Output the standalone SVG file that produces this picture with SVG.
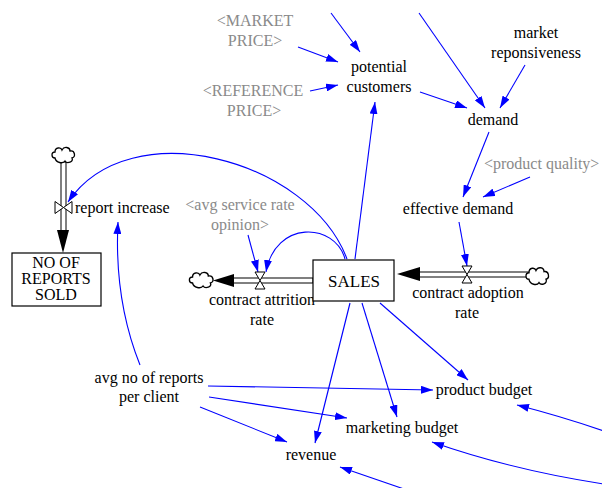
<svg xmlns="http://www.w3.org/2000/svg" width="602" height="488" viewBox="0 0 602 488">
<defs>
<style>
text{font-family:Liberation Serif,Times New Roman,Times,serif;font-size:16px;fill:#000;text-anchor:middle}
.sh{fill:#8a8a8a}
.ln{fill:none;stroke:#0000ff;stroke-width:1.1;marker-end:url(#a)}
.pipe{fill:#fff;stroke:#000;stroke-width:1}
.valve{fill:#fff;stroke:#000;stroke-width:1}
.cloud{fill:#fff;stroke:#000;stroke-width:1.3}
.box{fill:#fff;stroke:#000;stroke-width:1.2}
</style>
<marker id="a" viewBox="0 0 12 8" refX="12" refY="4" markerWidth="12" markerHeight="8" markerUnits="userSpaceOnUse" orient="auto">
<path d="M0,0 L12,4 L0,8 z" fill="#0000ff"/>
</marker>
<path id="cl" d="M-9,3 C-13,3 -13,-3 -9,-3 C-9,-8 -3,-8 -2,-5 C0,-9 6,-8 6,-4 C11,-5 12,2 8,3 C10,7 3,9 1,6 C-1,9 -8,8 -9,3 Z"/>
</defs>

<g id="connectors">
<path class="ln" d="M331,13 L360,52"/>
<path class="ln" d="M298,47 L338,62"/>
<path class="ln" d="M310,91 L338,85"/>
<path class="ln" d="M419,13 L485,108"/>
<path class="ln" d="M525,65 L500,108"/>
<path class="ln" d="M420,92 L467,108"/>
<path class="ln" d="M489,132 L463,197"/>
<path class="ln" d="M530,177 L483,197"/>
<path class="ln" d="M459,222 L467,266"/>
<path class="ln" d="M355,259 L375,102"/>
<path class="ln" d="M347,259 C310,160 130,110 68,202"/>
<path class="ln" d="M345,259 C335,222 275,220 266,272"/>
<path class="ln" d="M248,235 L258,272"/>
<path class="ln" d="M380,303 L468,380"/>
<path class="ln" d="M362,303 L397,417"/>
<path class="ln" d="M350,303 L315,443"/>
<path class="ln" d="M140,365 Q114,300 118,222"/>
<path class="ln" d="M208,386 L433,390"/>
<path class="ln" d="M209,397 L347,418"/>
<path class="ln" d="M200,407 L287,442"/>
<path class="ln" d="M604,431 Q560,416 517,405"/>
<path class="ln" d="M604,484 Q512,470 432,442"/>
<path class="ln" d="M404,489 L340,467"/>
</g>

<g id="flow-report-increase">
<rect class="pipe" x="61" y="162" width="5" height="70"/>
<polygon points="57,230 69,230 63,253" fill="#000"/>
<use href="#cl" class="cloud" transform="translate(64,155)"/>
<polygon class="valve" points="55,201.5 55,213.5 63.5,207.5"/>
<polygon class="valve" points="72,201.5 72,213.5 63.5,207.5"/>
<text x="75" y="213" style="text-anchor:start">report increase</text>
</g>

<g id="flow-contract-attrition">
<rect class="pipe" x="228" y="278" width="85" height="5"/>
<polygon points="213,280.5 234,274 234,287" fill="#000"/>
<use href="#cl" class="cloud" transform="translate(202,280) scale(1.05,1)"/>
<polygon class="valve" points="255,272 265,272 260,280.5"/>
<polygon class="valve" points="255,289 265,289 260,280.5"/>
<text x="262" y="305">contract attrition</text>
<text x="262" y="325">rate</text>
</g>

<g id="flow-contract-adoption">
<rect class="pipe" x="415" y="272" width="114" height="5"/>
<polygon points="397,274 420,267 420,281" fill="#000"/>
<use href="#cl" class="cloud" transform="translate(538,276) scale(1,1.1)"/>
<polygon class="valve" points="462,266 472,266 467,274.5"/>
<polygon class="valve" points="462,283 472,283 467,274.5"/>
<text x="468" y="298">contract adoption</text>
<text x="467" y="318">rate</text>
</g>

<g id="stock-sales">
<rect class="box" x="313" y="260" width="81" height="41"/>
<text x="354" y="287" style="font-size:17px">SALES</text>
</g>

<g id="stock-reports-sold">
<rect class="box" x="12" y="253" width="89" height="53"/>
<text x="56" y="268">NO OF</text>
<text x="56" y="284">REPORTS</text>
<text x="56" y="300">SOLD</text>
</g>

<g id="market-price"><text class="sh" x="255" y="26">&lt;MARKET</text><text class="sh" x="255" y="46">PRICE&gt;</text></g>
<g id="reference-price"><text class="sh" x="253" y="96">&lt;REFERENCE</text><text class="sh" x="254" y="116">PRICE&gt;</text></g>
<g id="potential-customers"><text x="379" y="72">potential</text><text x="379" y="92">customers</text></g>
<g id="market-responsiveness"><text x="536" y="38">market</text><text x="536" y="58">reponsiveness</text></g>
<g id="demand"><text x="493" y="125">demand</text></g>
<g id="product-quality"><text class="sh" x="484" y="169" style="text-anchor:start">&lt;product quality&gt;</text></g>
<g id="effective-demand"><text x="458" y="214">effective demand</text></g>
<g id="avg-service-rate-opinion"><text class="sh" x="240" y="210">&lt;avg service rate</text><text class="sh" x="240" y="230">opinion&gt;</text></g>
<g id="avg-reports-per-client"><text x="149" y="383">avg no of reports</text><text x="149" y="402">per client</text></g>
<g id="product-budget"><text x="484" y="395">product budget</text></g>
<g id="marketing-budget"><text x="402" y="433">marketing budget</text></g>
<g id="revenue"><text x="311" y="460">revenue</text></g>
</svg>
